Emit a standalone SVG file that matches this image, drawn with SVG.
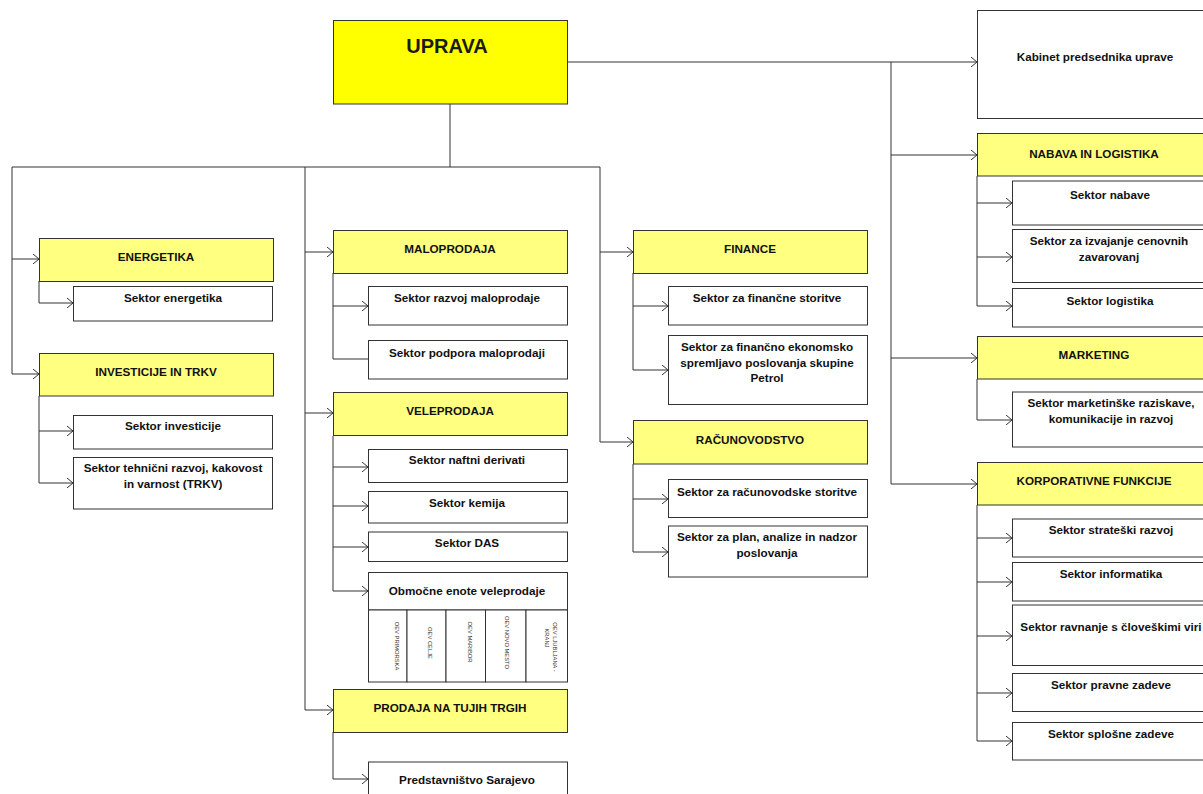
<svg xmlns="http://www.w3.org/2000/svg" width="1203" height="794" viewBox="0 0 1203 794">
<style>
.box{fill:#fff;stroke:#333;stroke-width:1}
.hdr{fill:#ffff80;stroke:#333;stroke-width:1}
.top{fill:#ffff00;stroke:#333;stroke-width:1}
text{font-family:"Liberation Sans",Arial,sans-serif;font-weight:bold;font-size:11.7px;fill:#111;text-anchor:middle}
.big{font-size:20px;fill:#1a1a1a}
.rot{font-weight:normal;font-size:5.8px;fill:#333}
.c path{fill:none;stroke:#333;stroke-width:1}
.c .a{marker-end:url(#arr)}
</style>
<defs>
<marker id="arr" viewBox="0 0 6 10" markerWidth="6" markerHeight="10" refX="6" refY="5" orient="auto" markerUnits="userSpaceOnUse">
<path d="M0,0 L6,5 L0,10" fill="none" stroke="#333" stroke-width="1"/>
</marker>
</defs>
<rect width="1203" height="794" fill="#fff"/>
<g class="c" id="connectors">
<path d="M450,104 V167 M12,167 H600"/>
<path class="a" d="M12,167 V374 H39"/>
<path class="a" d="M12,259 H39"/>
<path class="a" d="M305,167 V710 H333"/>
<path class="a" d="M305,252 H333"/>
<path class="a" d="M305,413 H333"/>
<path class="a" d="M600,167 V442 H633"/>
<path class="a" d="M600,252 H633"/>
<path class="a" d="M567,62 H977"/>
<path class="a" d="M891,62 V484 H977"/>
<path class="a" d="M891,155 H977"/>
<path class="a" d="M891,358 H977"/>
<path class="a" d="M39,281 V303 H73"/>
<path class="a" d="M39,396 V483 H73"/>
<path class="a" d="M39,431 H73"/>
<path d="M333,273 V359 H368"/>
<path class="a" d="M333,306 H368"/>
<path class="a" d="M333,436 V591 H368"/>
<path class="a" d="M333,467 H368"/>
<path class="a" d="M333,506 H368"/>
<path class="a" d="M333,547 H368"/>
<path class="a" d="M333,732 V779 H368"/>
<path class="a" d="M633,273 V370 H668"/>
<path class="a" d="M633,306 H668"/>
<path class="a" d="M633,464 V552 H668"/>
<path class="a" d="M633,499 H668"/>
<path class="a" d="M977,176 V306 H1012"/>
<path class="a" d="M977,203 H1012"/>
<path class="a" d="M977,257 H1012"/>
<path class="a" d="M977,379 V420 H1012"/>
<path class="a" d="M977,505 V741 H1012"/>
<path class="a" d="M977,538 H1012"/>
<path class="a" d="M977,582 H1012"/>
<path class="a" d="M977,636 H1012"/>
<path class="a" d="M977,693 H1012"/>
</g>
<g id="uprava"><rect class="top" x="333.5" y="20.5" width="234" height="83.5"/><text class="big" x="447" y="53">UPRAVA</text></g>
<g id="energetika"><rect class="hdr" x="39.5" y="238.5" width="234" height="43"/><text x="156" y="261">ENERGETIKA</text></g>
<g id="sektor-energetika"><rect class="box" x="73.5" y="286.5" width="199" height="34.5"/><text x="173" y="302">Sektor energetika</text></g>
<g id="investicije"><rect class="hdr" x="39.5" y="353.5" width="234" height="42.5"/><text x="156" y="376">INVESTICIJE IN TRKV</text></g>
<g id="sektor-investicije"><rect class="box" x="73.5" y="415.5" width="199" height="33.5"/><text x="173" y="430">Sektor investicije</text></g>
<g id="sektor-trkv"><rect class="box" x="73.5" y="457.5" width="199" height="51.5"/><text x="173" y="472">Sektor tehnični razvoj, kakovost</text><text x="173" y="488">in varnost (TRKV)</text></g>
<g id="maloprodaja"><rect class="hdr" x="333.5" y="230.5" width="234" height="43"/><text x="450" y="253">MALOPRODAJA</text></g>
<g id="sektor-razvoj-maloprodaje"><rect class="box" x="368.5" y="286.5" width="199" height="38.5"/><text x="467" y="302">Sektor razvoj maloprodaje</text></g>
<g id="sektor-podpora"><rect class="box" x="368.5" y="340.5" width="199" height="38.5"/><text x="467" y="357">Sektor podpora maloprodaji</text></g>
<g id="veleprodaja"><rect class="hdr" x="333.5" y="392.5" width="234" height="43"/><text x="450" y="415">VELEPRODAJA</text></g>
<g id="sektor-naftni"><rect class="box" x="368.5" y="449.5" width="199" height="33"/><text x="467" y="463.5">Sektor naftni derivati</text></g>
<g id="sektor-kemija"><rect class="box" x="368.5" y="491.5" width="199" height="31.5"/><text x="467" y="507">Sektor kemija</text></g>
<g id="sektor-das"><rect class="box" x="368.5" y="532" width="199" height="29.5"/><text x="467" y="547">Sektor DAS</text></g>
<g id="obmocne-enote"><rect class="box" x="368.5" y="572.5" width="199" height="37.5"/><text x="467" y="595">Območne enote veleprodaje</text>
<rect class="box" x="368.5" y="610" width="38.5" height="72"/><rect class="box" x="407" y="610" width="39" height="72"/><rect class="box" x="446" y="610" width="39.5" height="72"/><rect class="box" x="485.5" y="610" width="40.5" height="72"/><rect class="box" x="526" y="610" width="41.5" height="72"/>
<text class="rot" transform="translate(394.7,646) rotate(90)">OEV PRIMORSKA</text>
<text class="rot" transform="translate(428,643) rotate(90)">OEV CELJE</text>
<text class="rot" transform="translate(468,642) rotate(90)">OEV MARIBOR</text>
<text class="rot" transform="translate(504.7,642.5) rotate(90)">OEV NOVO MESTO</text>
<text class="rot" transform="translate(553,647) rotate(90)">OEV LJUBLJANA -</text>
<text class="rot" transform="translate(544.7,638) rotate(90)">KRANJ</text>
</g>
<g id="prodaja-tujih"><rect class="hdr" x="333.5" y="689.5" width="234" height="43"/><text x="450" y="712">PRODAJA NA TUJIH TRGIH</text></g>
<g id="predstavnistvo"><rect class="box" x="368.5" y="762" width="199" height="40"/><text x="467" y="784">Predstavništvo Sarajevo</text></g>
<g id="finance"><rect class="hdr" x="633.5" y="230.5" width="234" height="43"/><text x="750" y="253">FINANCE</text></g>
<g id="sektor-financne"><rect class="box" x="668.5" y="286.5" width="199" height="38.5"/><text x="767" y="302">Sektor za finančne storitve</text></g>
<g id="sektor-financno-ek"><rect class="box" x="668.5" y="335.5" width="199" height="69"/><text x="767" y="351">Sektor za finančno ekonomsko</text><text x="767" y="367">spremljavo poslovanja skupine</text><text x="767" y="382">Petrol</text></g>
<g id="racunovodstvo"><rect class="hdr" x="633.5" y="420.5" width="234" height="43.5"/><text x="750" y="444">RAČUNOVODSTVO</text></g>
<g id="sektor-racunovodske"><rect class="box" x="668.5" y="479.5" width="199" height="38"/><text x="767" y="496">Sektor za računovodske storitve</text></g>
<g id="sektor-plan"><rect class="box" x="668.5" y="526" width="199" height="51"/><text x="767" y="541">Sektor za plan, analize in nadzor</text><text x="767" y="557">poslovanja</text></g>
<g id="kabinet"><rect class="box" x="977.5" y="10.5" width="240" height="108"/><text x="1095" y="61">Kabinet predsednika uprave</text></g>
<g id="nabava"><rect class="hdr" x="977.5" y="133.5" width="240" height="42.5"/><text x="1094" y="157.5">NABAVA IN LOGISTIKA</text></g>
<g id="sektor-nabave"><rect class="box" x="1012.5" y="181" width="205" height="44"/><text x="1110" y="199">Sektor nabave</text></g>
<g id="sektor-cenovnih"><rect class="box" x="1012.5" y="229.5" width="205" height="53"/><text x="1109" y="244.5">Sektor za izvajanje cenovnih</text><text x="1109" y="260.5">zavarovanj</text></g>
<g id="sektor-logistika"><rect class="box" x="1012.5" y="288.5" width="205" height="38.5"/><text x="1110" y="305">Sektor logistika</text></g>
<g id="marketing"><rect class="hdr" x="977.5" y="336.5" width="240" height="42.5"/><text x="1094" y="358.5">MARKETING</text></g>
<g id="sektor-marketing"><rect class="box" x="1012.5" y="392" width="205" height="55"/><text x="1111" y="407">Sektor marketinške raziskave,</text><text x="1111" y="423">komunikacije in razvoj</text></g>
<g id="korporativne"><rect class="hdr" x="977.5" y="462.5" width="240" height="42.5"/><text x="1094" y="485">KORPORATIVNE FUNKCIJE</text></g>
<g id="sektor-strateski"><rect class="box" x="1012.5" y="519" width="205" height="38"/><text x="1111" y="534">Sektor strateški razvoj</text></g>
<g id="sektor-informatika"><rect class="box" x="1012.5" y="562.5" width="205" height="38.5"/><text x="1111" y="578">Sektor informatika</text></g>
<g id="sektor-kadri"><rect class="box" x="1012.5" y="605" width="205" height="60.5"/><text x="1111" y="631">Sektor ravnanje s človeškimi viri</text></g>
<g id="sektor-pravne"><rect class="box" x="1012.5" y="673.5" width="205" height="38"/><text x="1111" y="689">Sektor pravne zadeve</text></g>
<g id="sektor-splosne"><rect class="box" x="1012.5" y="722.5" width="205" height="37.5"/><text x="1111" y="738">Sektor splošne zadeve</text></g>
</svg>
